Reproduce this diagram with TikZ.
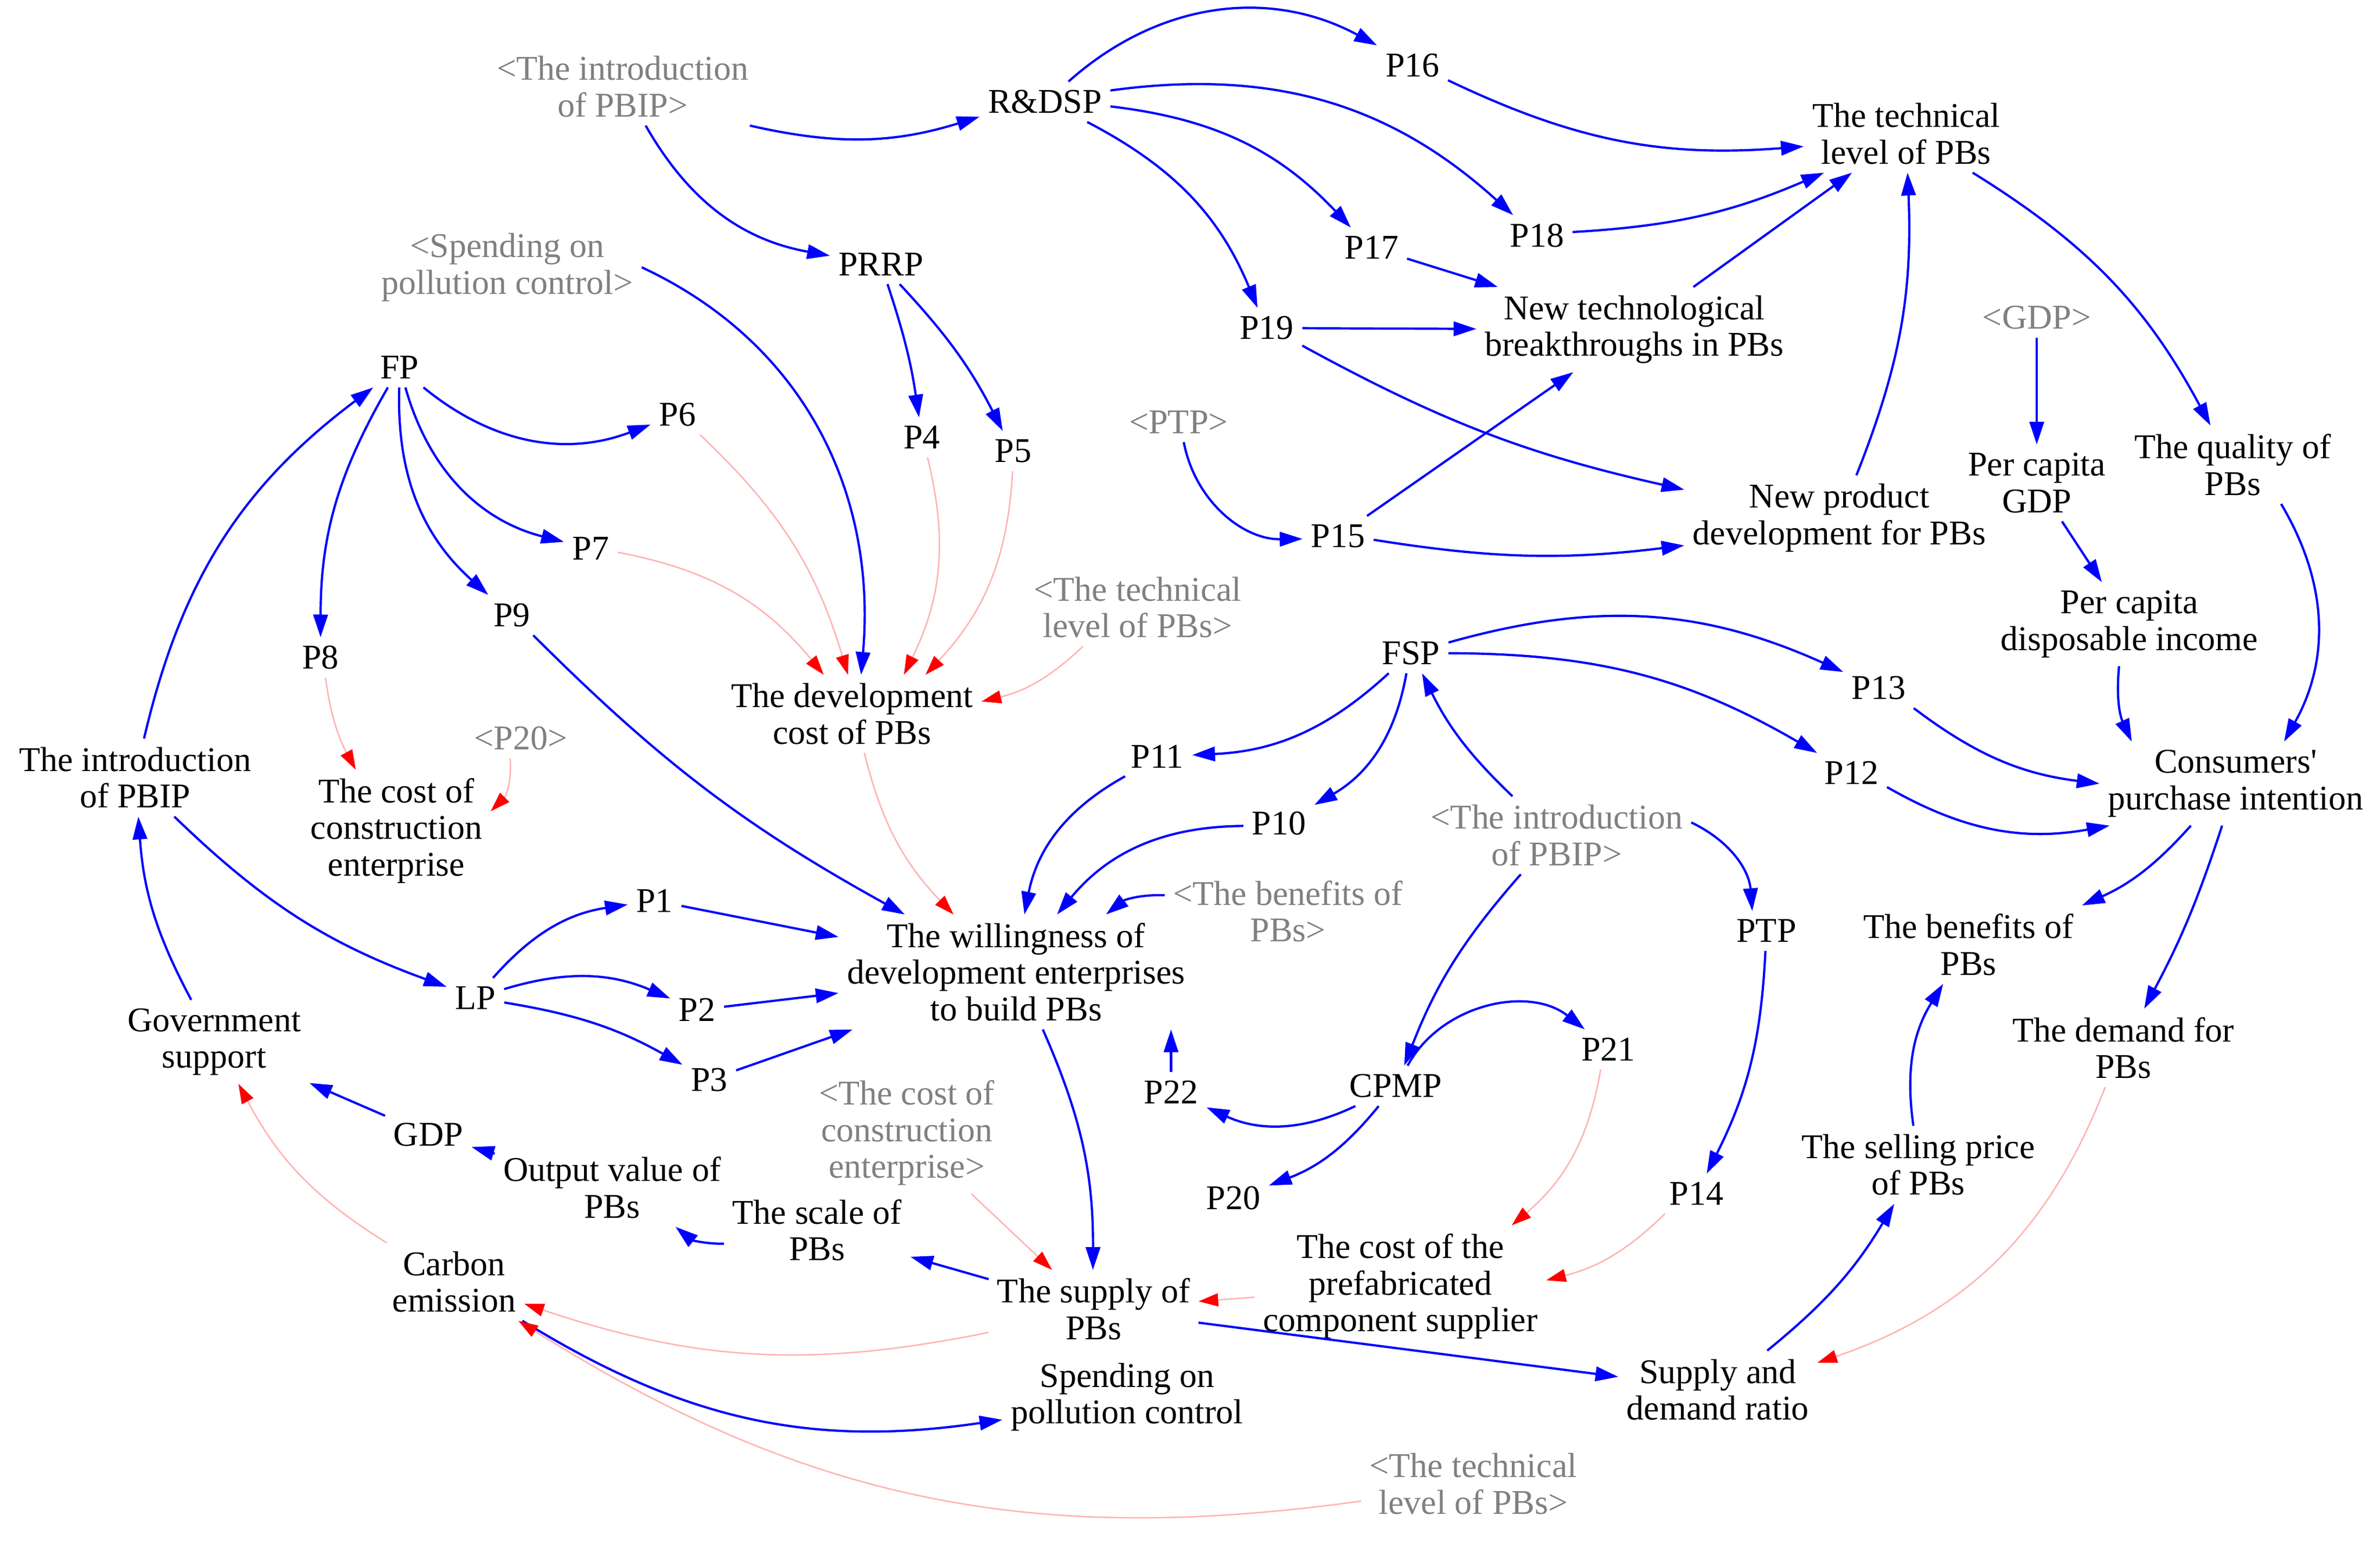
\documentclass[tikz,border=0pt]{standalone}
\usepackage{fontspec}
\setmainfont{Liberation Serif}
\usetikzlibrary{arrows.meta}
\definecolor{linkblue}{RGB}{0,0,255}
\definecolor{linkpink}{RGB}{255,180,180}
\definecolor{ghostgray}{RGB}{128,128,128}

\begin{document}
\begin{tikzpicture}[x=0.02cm, y=0.02cm,
  var/.style={align=center, inner sep=3pt, font=\fontsize{13}{13.7}\selectfont},
  ghost/.style={text=ghostgray},
  bluearc/.style={draw=linkblue, line width=0.85pt, -{Triangle[length=3mm,width=1.9mm]}},
  pinkarc/.style={draw=linkpink, line width=0.55pt, -{Triangle[length=2.6mm,width=1.7mm,color=red,fill=red]}}]
\useasboundingbox (0,0) rectangle (1567,-1019);
 \begin{scope}[every node/.style={var}]
 % top half
 \node[ghost] (gpbipa) at (410,-57) {<The introduction\\of PBIP>};
 \node (rdsp) at (688,-67) {R\&DSP};
 \node (p16) at (930,-43) {P16};
 \node (tech) at (1255,-88) {The technical\\level of PBs};
 \node (prrp) at (580,-174) {PRRP};
 \node[ghost] (gspend) at (334,-176) {<Spending on\\pollution control>};
 \node (p17) at (903,-163) {P17};
 \node (p18) at (1012,-155) {P18};
 \node (p19) at (834,-216) {P19};
 \node (newtech) at (1076,-217) {New technological\\breakthroughs in PBs};
 \node[ghost] (ggdp) at (1341,-209) {<GDP>};
 \node (fp) at (263,-242) {FP};
 \node (p6) at (446,-273) {P6};
 \node (p4) at (607,-288) {P4};
 \node (p5) at (667,-297) {P5};
 \node[ghost] (gptp) at (776,-278) {<PTP>};
 \node (pcgdp) at (1341,-318) {Per capita\\GDP};
 \node (quality) at (1470,-306) {The quality of\\PBs};
 \node (newprod) at (1211,-341) {New product\\development for PBs};
 \node (p15) at (881,-353) {P15};
 \node (p7) at (389,-361) {P7};
 \node[ghost] (gtecha) at (749,-400) {<The technical\\level of PBs>};
 \node (income) at (1402,-411) {Per capita\\disposable income};
 \node (p9) at (337,-405) {P9};
 \node (p8) at (211,-433) {P8};
 \node (fsp) at (929,-430) {FSP};
 \node (p13) at (1237,-453) {P13};
 \node (devcost) at (561,-470) {The development\\cost of PBs};
 \node[ghost] (gp20) at (343,-486) {<P20>};
 \node (pbip) at (89,-512) {The introduction\\of PBIP};
 \node (p11) at (762,-498) {P11};
 \node (p12) at (1219,-509) {P12};
 \node (conscost) at (261,-547) {The cost of\\construction\\enterprise};
 \node (intention) at (1472,-516) {Consumers\textquotesingle\\purchase intention};
 % bottom half
 \node (p10) at (842,-542) {P10};
 \node[ghost] (gpbipb) at (1025,-550) {<The introduction\\of PBIP>};
 \node[ghost] (gbenefit) at (848,-600) {<The benefits of\\PBs>};
 \node (p1) at (431,-593) {P1};
 \node (will) at (669,-640) {The willingness of\\development enterprises\\to build PBs};
 \node (ptp) at (1163,-613) {PTP};
 \node (benefit) at (1296,-622) {The benefits of\\PBs};
 \node (lp) at (313,-657) {LP};
 \node (p2) at (459,-665) {P2};
 \node (demand) at (1398,-690) {The demand for\\PBs};
 \node (gov) at (141,-686) {Government\\support};
 \node (p21) at (1059,-691) {P21};
 \node (p3) at (467,-711) {P3};
 \node (p22) at (771,-719) {P22};
 \node (cpmp) at (919,-715) {CPMP};
 \node[ghost] (gcost) at (597,-746) {<The cost of\\construction\\enterprise>};
 \node (gdp) at (282,-747) {GDP};
 \node (output) at (403,-782) {Output value of\\PBs};
 \node (price) at (1263,-767) {The selling price\\of PBs};
 \node (p14) at (1117,-786) {P14};
 \node (p20) at (812,-789) {P20};
 \node (scale) at (538,-810) {The scale of\\PBs};
 \node (prefab) at (922,-847) {The cost of the\\prefabricated\\component supplier};
 \node (carbon) at (299,-844) {Carbon\\emission};
 \node (supply) at (720,-862) {The supply of\\PBs};
 \node (spend) at (742,-920) {Spending on\\pollution control};
 \node (ratio) at (1131,-915) {Supply and\\demand ratio};
 \node[ghost] (gtechb) at (970,-977) {<The technical\\level of PBs>};
 \end{scope}

 % blue links
 \draw[bluearc] (gpbipa) to[bend right=15] (rdsp);
 \draw[bluearc] (gpbipa) to[bend right=25] (prrp);
 \draw[bluearc] (rdsp) to[bend left=35] (p16);
 \draw[bluearc] (rdsp) to[bend left=25] (p18);
 \draw[bluearc] (rdsp) to[bend left=20] (p17);
 \draw[bluearc] (rdsp) to[bend left=20] (p19);
 \draw[bluearc] (p16) to[bend right=15] (tech);
 \draw[bluearc] (p18) to[bend right=10] (tech);
 \draw[bluearc] (p17) -- (newtech);
 \draw[bluearc] (p19) -- (newtech);
 \draw[bluearc] (newtech) -- (tech);
 \draw[bluearc] (p19) to[bend right=8] (newprod);
 \draw[bluearc] (p15) -- (newtech);
 \draw[bluearc] (p15) to[bend right=8] (newprod);
 \draw[bluearc] (gptp) to[bend right=40] (p15);
 \draw[bluearc] (newprod) to[bend right=12] (tech);
 \draw[bluearc] (tech) to[bend left=15] (quality);
 \draw[bluearc] (ggdp) -- (pcgdp);
 \draw[bluearc] (pcgdp) -- (income);
 \draw[bluearc] (income) to[bend right=15] (intention.158);
 \draw[bluearc] (quality.-39) to[bend left=30] (intention.41);
 \draw[bluearc] (p13) to[bend right=15] (intention);
 \draw[bluearc] (p12) to[bend right=20] (intention);
 \draw[bluearc] (fsp) to[bend left=20] (p13);
 \draw[bluearc] (fsp) to[bend left=15] (p12);
 \draw[bluearc] (fsp) to[bend left=20] (p11);
 \draw[bluearc] (fsp) to[bend left=25] (p10);
 \draw[bluearc] (gpbipb) to[bend left=10] (fsp);
 \draw[bluearc] (gpbipb) to[bend left=30] (ptp);
 \draw[bluearc] (gpbipb) to[bend right=10] (cpmp);
 \draw[bluearc] (cpmp) to[bend left=50] (p21);
 \draw[bluearc] (cpmp) to[bend left=25] (p22);
 \draw[bluearc] (cpmp) to[bend left=15] (p20);
 \draw[bluearc] (p22.north) -- (p22.north |- will.south);
 \draw[bluearc] (ptp) to[bend left=12] (p14);
 \draw[bluearc] (p11) to[bend right=25] (will);
 \draw[bluearc] (p10) to[bend right=25] (will);
 \draw[bluearc] (gbenefit) to[bend right=20] (will);
 \draw[bluearc] (p9) to[bend right=8] (will);
 \draw[bluearc] (p1) -- (will);
 \draw[bluearc] (p2) -- (will);
 \draw[bluearc] (p3) -- (will);
 \draw[bluearc] (lp) to[bend left=20] (p1);
 \draw[bluearc] (lp) to[bend left=20] (p2);
 \draw[bluearc] (lp) to[bend left=10] (p3);
 \draw[bluearc] (pbip) to[bend right=12] (lp);
 \draw[bluearc] (gov) to[bend left=12] (pbip);
 \draw[bluearc] (pbip) to[bend left=20] (fp);
 \draw[bluearc] (fp) to[bend right=30] (p6);
 \draw[bluearc] (fp) to[bend right=30] (p7);
 \draw[bluearc] (fp) to[bend right=25] (p9);
 \draw[bluearc] (fp) to[bend right=15] (p8);
 \draw[bluearc] (gspend.east) to[out=-25,in=85] (devcost.77);
 \draw[bluearc] (prrp) to[bend left=5] (p4);
 \draw[bluearc] (prrp) to[bend left=8] (p5);
 \draw[bluearc] (will) to[bend left=12] (supply);
 \draw[bluearc] (supply) -- (scale);
 \draw[bluearc] (scale) to[bend left=20] (output);
 \draw[bluearc] (output) -- (gdp);
 \draw[bluearc] (gdp) -- (gov);
 \draw[bluearc] (carbon) to[bend right=20] (spend);
 \draw[bluearc] (supply) -- (ratio);
 \draw[bluearc] (ratio) to[bend right=10] (price);
 \draw[bluearc] (price) to[bend left=20] (benefit);
 \draw[bluearc] (intention) to[bend left=12] (benefit);
 \draw[bluearc] (intention) to[bend left=5] (demand);

 % pink links
 \draw[pinkarc] (p6) to[bend left=15] (devcost.96);
 \draw[pinkarc] (p7) to[bend left=20] (devcost.126);
 \draw[pinkarc] (p4) to[bend left=20] (devcost.37);
 \draw[pinkarc] (p5) to[bend left=20] (devcost.28);
 \draw[pinkarc] (gtecha) to[bend left=15] (devcost);
 \draw[pinkarc] (p8) to[bend right=10] (conscost);
 \draw[pinkarc] (gp20) to[bend left=25] (conscost);
 \draw[pinkarc] (devcost) to[bend right=15] (will);
 \draw[pinkarc] (gcost) -- (supply);
 \draw[pinkarc] (prefab) -- (supply);
 \draw[pinkarc] (p21) to[bend left=20] (prefab);
 \draw[pinkarc] (p14) to[bend left=15] (prefab);
 \draw[pinkarc] (demand) to[bend left=25] (ratio);
 \draw[pinkarc] (carbon) to[bend left=15] (gov);
 \draw[pinkarc] (supply) to[bend left=15] (carbon);
 \draw[pinkarc] (gtechb) to[bend left=20] (carbon);
\end{tikzpicture}
\end{document}
